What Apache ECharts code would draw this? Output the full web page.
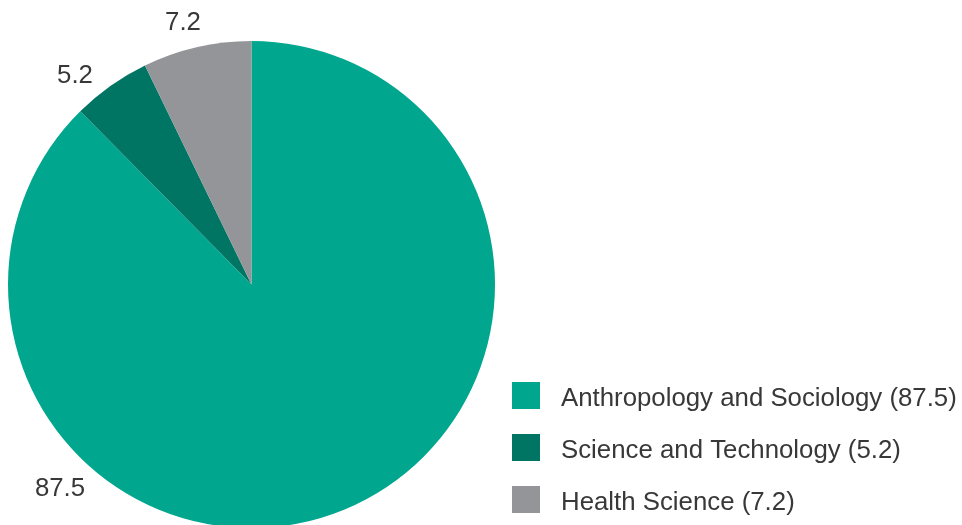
<!DOCTYPE html>
<html><head><meta charset="utf-8">
<script src="https://cdn.jsdelivr.net/npm/echarts@6/dist/echarts.min.js"></script>
<style>html,body{margin:0;padding:0;background:#fff;}#c{width:962px;height:525px;}</style>
</head><body><div id="c"></div>
<script>
const categories = ['Anthropology and Sociology', 'Science and Technology', 'Health Science'];
const values = [87.5, 5.2, 7.2];
const colors = ['#00a68e', '#007563', '#939598'];
const labelPositions = [[60, 489], [75, 76], [183, 23]];

const chart = echarts.init(document.getElementById('c'), null, {renderer: 'canvas'});
const font = '"Liberation Sans", Arial, Helvetica, sans-serif';
chart.setOption({
  animation: false,
  legend: {
    orient: 'vertical',
    left: 512,
    top: 382,
    padding: 0,
    itemWidth: 28,
    itemHeight: 27,
    itemGap: 22,
    icon: 'rect',
    data: categories,
    formatter: function (name) {
      const i = categories.indexOf(name);
      return '{t|' + name + ' (' + values[i] + ')}';
    },
    textStyle: {
      fontFamily: font, fontSize: 25.8, color: '#383838', padding: [0, 0, 0, 16],
      rich: {t: {fontFamily: font, fontSize: 25.8, color: '#383838', padding: [7, 0, 0, 0]}}
    }
  },
  series: [{
    type: 'pie',
    center: [251.5, 284.5],
    radius: 243.5,
    startAngle: 90,
    clockwise: true,
    silent: true,
    data: categories.map((n, i) => ({name: n, value: values[i], itemStyle: {color: colors[i]}})),
    label: {
      show: true,
      position: 'outside',
      formatter: '{c}',
      fontFamily: font,
      fontSize: 25.8,
      color: '#383838'
    },
    labelLine: {show: false},
    labelLayout: function (params) {
      const p = labelPositions[params.dataIndex];
      return {x: p[0], y: p[1], align: 'center', verticalAlign: 'middle'};
    }
  }]
});
</script></body></html>
